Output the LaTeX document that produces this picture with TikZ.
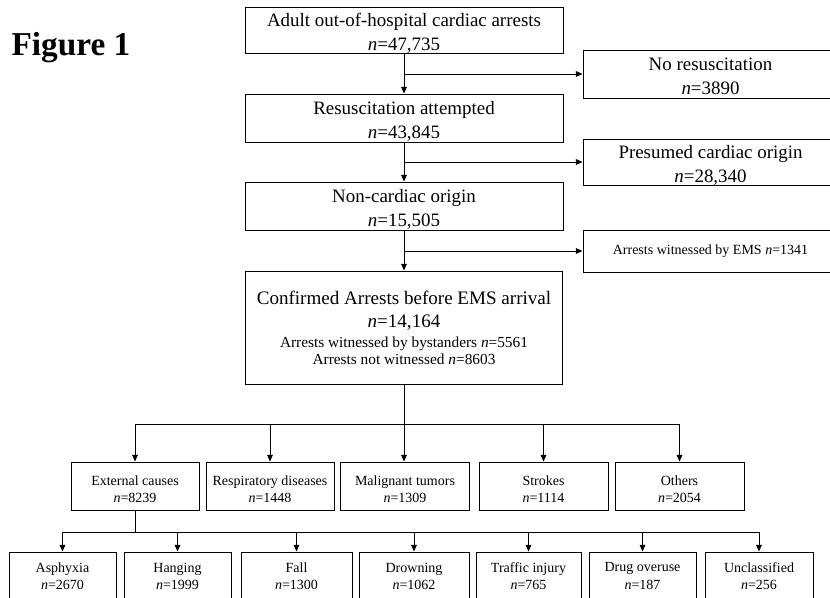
\documentclass[tikz,border=0pt]{standalone}
\usepackage{fontspec}
\setmainfont{Liberation Serif}
\usepackage{tikz}
\usetikzlibrary{arrows.meta}

\newcommand{\nn}{\textit{n}=}
\tikzset{
  pbox/.style 2 args={draw, line width=0.7pt, align=center, inner sep=0pt,
    minimum width=#1*0.75pt, minimum height=#2*0.75pt},
  bigtxt/.style={font=\fontsize{14.2}{17.6}\selectfont, text height=30.5pt, text depth=0pt},
  midtxt/.style={font=\fontsize{10.5}{13}\selectfont},
  cattxt/.style={font=\fontsize{10.5}{12.8}\selectfont, text height=24.4pt, text depth=0pt},
  smalltxt/.style={font=\fontsize{10.5}{12.8}\selectfont},
  arr/.style={line width=0.7pt, -{Triangle[length=5pt,width=4.2pt]}},
  lnk/.style={line width=0.7pt}
}

\begin{document}
\begin{tikzpicture}[x=0.75pt,y=0.75pt,yscale=-1,xscale=1]
\useasboundingbox (0,0) rectangle (830,597);
\clip (0,0) rectangle (830,597);

% Title
\node (fig) at (71,48) {\fontsize{25}{27}\selectfont\bfseries Figure 1};

%Shape: main column
\node [pbox={318}{46}, bigtxt] (top) at (404,30) {Adult out-of-hospital cardiac arrests\\\nn47,735};
\node [pbox={318}{48}, bigtxt] (resus) at (404,118) {Resuscitation attempted\\\nn43,845};
\node [pbox={318}{48}, bigtxt] (noncard) at (404,206) {Non-cardiac origin\\\nn15,505};
\node [pbox={317}{113}, font=\fontsize{14.3}{17.25}\selectfont] (confirmed) at (404,327.5) {%
  Confirmed Arrests before EMS arrival\\
  \nn14,164\\[-2.3pt]
  {\fontsize{11.5}{13}\selectfont Arrests witnessed by bystanders \nn5561}\\[-4.5pt]
  {\fontsize{11.5}{13}\selectfont Arrests not witnessed \nn8603}};

%Shape: excluded boxes
\node [pbox={255}{48}, bigtxt] (nores) at (710.5,74) {No resuscitation\\\nn3890};
\node [pbox={255}{46}, bigtxt] (presumed) at (710.5,162) {Presumed cardiac origin\\\nn28,340};
\node [pbox={255}{42}, midtxt] (ems) at (710.5,251) {Arrests witnessed by EMS \nn1341};

%Shape: causes
\node [pbox={128}{48}, cattxt] (ext) at (135,486) {External causes\\\nn8239};
\node [pbox={128}{48}, cattxt] (resp) at (270,486) {Respiratory diseases\\\nn1448};
\node [pbox={129}{48}, cattxt] (malig) at (405,486) {Malignant tumors\\\nn1309};
\node [pbox={129}{48}, cattxt] (strokes) at (543.5,486) {Strokes\\\nn1114};
\node [pbox={129}{48}, cattxt] (others) at (679.5,486) {Others\\\nn2054};

%Shape: external causes
\node [pbox={107}{48}, smalltxt] (asph) at (62.5,576) {Asphyxia\\\nn2670};
\node [pbox={107}{48}, smalltxt] (hang) at (177.5,576) {Hanging\\\nn1999};
\node [pbox={111}{48}, smalltxt] (fall) at (296.5,576) {Fall\\\nn1300};
\node [pbox={110}{48}, smalltxt] (drown) at (414,576) {Drowning\\\nn1062};
\node [pbox={105}{48}, smalltxt] (traffic) at (528.5,576) {Traffic injury\\\nn765};
\node [pbox={107}{48}, smalltxt] (drug) at (642.5,576) {Drug overuse\\\nn187};
\node [pbox={108}{48}, smalltxt] (uncl) at (759,576) {Unclassified\\\nn256};

%Straight Lines: main column
\draw [arr] (top) -- (resus);
\draw [arr] (resus) -- (noncard);
\draw [arr] (noncard) -- (confirmed);
\draw [arr] (top.south |- nores.west) -- (nores.west);
\draw [arr] (top.south |- presumed.west) -- (presumed.west);
\draw [arr] (top.south |- ems.west) -- (ems.west);

%Straight Lines: to causes
\coordinate (catbar) at (404,424);
\draw [lnk] (confirmed.south) -- (catbar);
\draw [lnk] (catbar -| ext.north) -- (catbar -| others.north);
\draw [arr] (catbar) -- (catbar |- malig.north);
\foreach \c in {ext,resp,strokes,others}
  \draw [arr] (catbar -| \c.north) -- (\c.north);

%Straight Lines: to external causes
\coordinate (extbar) at (135,532);
\draw [lnk] (ext.south) -- (extbar);
\draw [lnk] (extbar -| asph.north) -- (extbar -| uncl.north);
\foreach \c in {asph,hang,fall,drown,traffic,drug,uncl}
  \draw [arr] (extbar -| \c.north) -- (\c.north);

\end{tikzpicture}
\end{document}
